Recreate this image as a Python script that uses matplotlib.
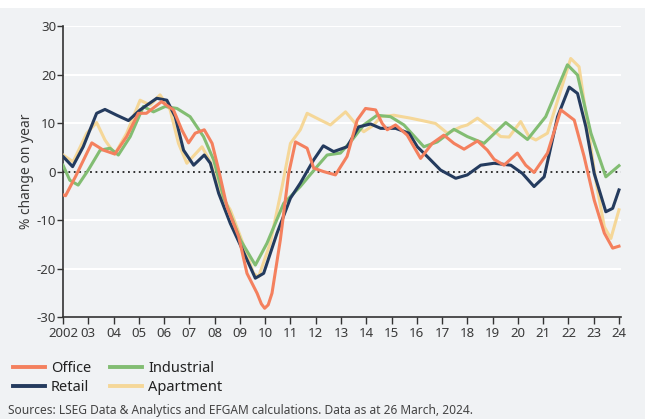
import numpy as np
import matplotlib.pyplot as plt
from matplotlib.lines import Line2D
from matplotlib.patches import Rectangle

# ---------------- data ----------------
office_x = [2002.0, 2002.1, 2002.5, 2003.14, 2003.6, 2004.05, 2004.52, 2004.98, 2005.3, 2005.9,
            2006.37, 2006.7, 2006.97, 2007.23, 2007.59, 2007.9, 2008.16, 2008.49, 2008.95, 2009.28,
            2009.68, 2009.85, 2009.98, 2010.12, 2010.27, 2010.6, 2010.93, 2011.2, 2011.66, 2011.92, 2012.3, 2012.78,
            2013.24, 2013.64, 2013.97, 2014.37, 2014.63, 2014.83, 2015.16, 2015.62, 2016.15, 2016.61,
            2017.07, 2017.47, 2017.87, 2018.4, 2018.79, 2019.06, 2019.45, 2019.98, 2020.31, 2020.64,
            2021.17, 2021.7, 2022.23, 2022.62, 2023.02, 2023.42, 2023.75, 2024.0]
office_y = [-4.8, -5.0, -1.0, 5.9, 4.4, 3.6, 7.2, 12.0, 12.0, 14.4,
            12.7, 8.6, 5.9, 7.9, 8.6, 5.8, 0.3, -7.3, -13.4, -21.0,
            -25.1, -27.3, -28.2, -27.5, -25.1, -14.1, -0.4, 6.1, 4.8, 0.7, 0.0, -0.7,
            3.1, 10.6, 13.0, 12.7, 9.9, 8.6, 9.6, 7.5, 2.7, 5.8,
            7.5, 5.8, 4.6, 6.3, 4.4, 2.5, 1.3, 3.8, 1.3, -0.2,
            3.8, 12.7, 10.6, 3.1, -5.9, -12.7, -15.8, -15.4]

retail_x = [2002.0, 2002.38, 2002.8, 2003.33, 2003.66, 2004.13, 2004.59, 2005.05, 2005.71, 2006.11,
            2006.44, 2006.77, 2007.17, 2007.59, 2007.83, 2008.16, 2008.62, 2009.02, 2009.61, 2009.94,
            2010.47, 2011.0, 2011.39, 2011.92, 2012.3, 2012.71, 2013.24, 2013.7, 2014.17, 2014.57,
            2015.16, 2015.69, 2016.02, 2016.41, 2016.94, 2017.54, 2018.0, 2018.53, 2019.06, 2019.72,
            2020.18, 2020.64, 2021.04, 2021.57, 2022.03, 2022.36, 2022.69, 2023.02, 2023.48, 2023.75,
            2024.0]
retail_y = [3.1, 1.0, 5.1, 12.0, 12.8, 11.6, 10.5, 12.7, 15.1, 14.7,
            11.3, 4.4, 1.3, 3.4, 1.7, -4.5, -10.7, -15.2, -22.0, -21.0,
            -12.7, -5.5, -2.4, 2.4, 5.3, 4.1, 5.1, 9.2, 9.8, 8.9,
            8.9, 7.9, 5.1, 3.1, 0.3, -1.4, -0.7, 1.3, 1.7, 1.3,
            -0.4, -3.1, -1.1, 11.3, 17.4, 16.1, 9.2, -0.4, -8.3, -7.6,
            -3.8]

industrial_x = [2002.0, 2002.27, 2002.6, 2003.0, 2003.47, 2003.86, 2004.19, 2004.66, 2005.18, 2005.58,
                2006.04, 2006.51, 2007.03, 2007.56, 2007.96, 2008.35, 2009.02, 2009.61, 2010.07, 2010.73,
                2011.39, 2012.05, 2012.45, 2012.98, 2013.44, 2013.9, 2014.43, 2014.96, 2015.49, 2016.28,
                2016.81, 2017.47, 2018.0, 2018.66, 2019.52, 2020.38, 2021.1, 2021.96, 2022.36, 2022.89,
                2023.48, 2024.0]
industrial_y = [1.3, -1.8, -2.8, 0.3, 4.4, 4.8, 3.4, 7.2, 13.4, 12.3,
                13.4, 13.0, 11.3, 7.2, 2.4, -5.2, -14.1, -19.3, -14.8, -6.6,
                -3.1, 1.0, 3.4, 3.8, 6.5, 9.6, 11.6, 11.3, 9.6, 5.1,
                6.1, 8.7, 7.2, 5.8, 10.1, 6.6, 11.3, 22.0, 19.9, 7.9,
                -1.1, 1.2]

apartment_x = [2002.0, 2002.4, 2002.94, 2003.33, 2003.66, 2004.05, 2004.52, 2005.05, 2005.45, 2005.84,
               2006.24, 2006.57, 2006.9, 2007.5, 2007.83, 2008.22, 2008.62, 2009.02, 2009.54, 2009.74,
               2010.2, 2010.67, 2011.0, 2011.39, 2011.66, 2012.19, 2012.58, 2013.18, 2013.57, 2013.9,
               2014.3, 2014.57, 2015.09, 2015.75, 2016.21, 2016.74, 2017.21, 2017.74, 2018.0, 2018.4,
               2018.86, 2019.32, 2019.65, 2020.11, 2020.44, 2020.71, 2021.17, 2021.7, 2022.09, 2022.42,
               2022.75, 2023.08, 2023.42, 2023.68, 2024.0]
apartment_y = [3.4, 2.0, 7.9, 10.1, 6.5, 3.6, 7.9, 14.7, 13.7, 15.8,
               12.7, 5.8, 1.7, 5.1, 2.0, -4.5, -7.9, -13.4, -21.0, -21.7,
               -14.8, -3.1, 5.8, 8.6, 12.0, 10.6, 9.6, 12.3, 9.9, 8.2,
               9.6, 11.3, 11.6, 11.0, 10.5, 9.9, 7.9, 9.2, 9.6, 11.0,
               9.2, 7.2, 7.1, 10.3, 7.2, 6.5, 7.9, 16.8, 23.3, 21.6,
               9.9, -1.8, -11.4, -13.8, -7.9]

years = list(range(2002, 2025))
year_labels = ['2002'] + [f'{y % 100:02d}' for y in years[1:]]

# ---------------- style ----------------
bg = '#f0f2f4'
c_office = '#f4805e'
c_industrial = '#82bd72'
c_retail = '#243b5e'
c_apartment = '#f5d798'
txt = '#3a3a3a'
plt.rcParams['font.family'] = ['Noto Sans', 'DejaVu Sans']
plt.rcParams['axes.unicode_minus'] = False

fig = plt.figure(figsize=(6.45, 4.19), dpi=100)
fig.patch.set_facecolor(bg)
fig.patches.append(Rectangle((0, 1 - 8 / 419), 1, 8 / 419, transform=fig.transFigure,
                             facecolor='white', edgecolor='none', zorder=0))

ax = fig.add_axes([63 / 645, 1 - 317 / 419, (621 - 63) / 645, (317 - 26) / 419])
ax.set_facecolor(bg)

for g in [-20, -10, 10, 20, 30]:
    ax.axhline(g, color='white', lw=1.5, zorder=1)
ax.axhline(0, color='#222222', lw=1.3, ls=(0, (1, 2)), zorder=2)

lw = 2.2
ax.plot(apartment_x, apartment_y, color=c_apartment, lw=lw, zorder=3, solid_joinstyle='round')
ax.plot(industrial_x, industrial_y, color=c_industrial, lw=lw, zorder=4, solid_joinstyle='round')
ax.plot(retail_x, retail_y, color=c_retail, lw=lw, zorder=5, solid_joinstyle='round')
ax.plot(office_x, office_y, color=c_office, lw=lw, zorder=6, solid_joinstyle='round')

ax.set_xlim(2002, 2024.08)
ax.set_ylim(-30, 30)
ax.set_xticks(years)
ax.set_xticklabels(year_labels)
ax.set_yticks([-30, -20, -10, 0, 10, 20, 30])

for s in ['top', 'right']:
    ax.spines[s].set_visible(False)
for s in ['left', 'bottom']:
    ax.spines[s].set_color('#333333')
    ax.spines[s].set_linewidth(1.2)
ax.tick_params(axis='x', length=5, width=1, color='#333333', labelsize=9.5, labelcolor=txt, pad=2)
ax.tick_params(axis='y', length=4, width=1, color='#333333', labelsize=9.5, labelcolor=txt, pad=1)
ax.set_ylabel('% change on year', fontsize=10, color=txt, labelpad=2)

handles = [Line2D([], [], color=c_office, lw=2.8),
           Line2D([], [], color=c_retail, lw=2.8),
           Line2D([], [], color=c_industrial, lw=2.8),
           Line2D([], [], color=c_apartment, lw=2.8)]
labels = ['Office', 'Retail', 'Industrial', 'Apartment']
fig.legend(handles, labels, ncol=2, loc='upper left', bbox_to_anchor=(0.0, 1 - 348 / 419),
           frameon=False, fontsize=10.5, handlelength=2.2, handletextpad=0.4,
           columnspacing=1.3, labelspacing=0.25, labelcolor='#222222')

fig.text(8 / 645, 1 - 410 / 419, 'Sources: LSEG Data & Analytics and EFGAM calculations. Data as at 26 March, 2024.',
         fontsize=8.6, color='#444444', va='center', ha='left')

fig.savefig('out.png', dpi=100, facecolor=bg)
